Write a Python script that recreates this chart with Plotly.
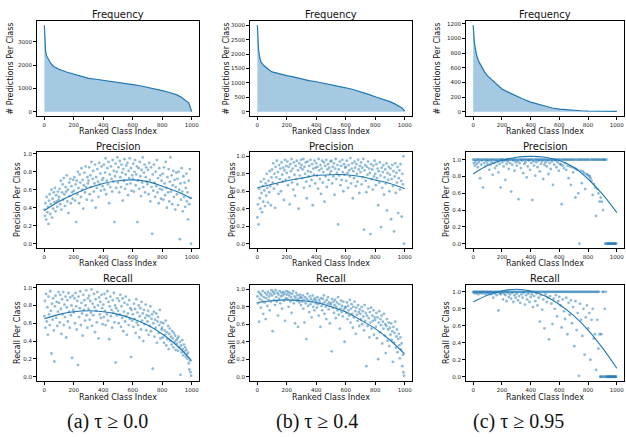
import plotly.graph_objects as go

# ---------------- data ----------------
freq_x = [0, 3, 8, 15, 25, 40, 60, 80, 100, 150, 200, 250, 300, 350, 400, 450, 500,
          550, 600, 650, 700, 750, 800, 850, 900, 930, 960, 980, 990, 1000]
freq_a = [3700, 3000, 2600, 2400, 2250, 2100, 1950, 1870, 1820, 1700, 1600, 1520, 1430,
          1390, 1350, 1300, 1260, 1210, 1160, 1110, 1050, 980, 900, 820, 720, 620, 480,
          380, 200, 0]
freq_b = [3000, 2500, 2150, 1900, 1720, 1620, 1520, 1450, 1380, 1310, 1250, 1200, 1130,
          1080, 1040, 990, 950, 890, 830, 770, 700, 610, 520, 440, 350, 280, 200, 140,
          90, 20]
freq_c = [1180, 1050, 950, 860, 760, 680, 600, 540, 490, 400, 310, 260, 210, 170, 130,
          100, 70, 50, 35, 25, 18, 13, 9, 7, 5, 4, 4, 3, 3, 3]

# class index (ranked), sampled every 4 classes
cls_idx = list(range(0, 1000, 4))

# per-class values in percent
prec_a = [38,31,45,27,52,35,41,22,48,55,33,44,60,29,50,39,57,46,62,36,54,47,41,58,49,
          52,61,44,70,38,57,66,49,73,55,42,63,58,76,47,60,34,68,53,72,45,64,57,50,71,
          59,74,48,66,24,70,55,80,62,45,77,68,52,84,60,71,39,65,79,57,86,63,49,74,67,
          70,85,55,76,63,91,48,72,81,58,67,88,40,74,62,83,69,52,90,66,78,59,86,71,64,
          73,88,60,79,95,55,70,84,66,91,45,77,63,86,72,58,93,69,81,24,75,89,62,80,96,
          68,85,57,92,74,63,88,79,48,83,70,94,61,77,87,66,90,54,81,73,95,67,84,59,76,
          72,89,58,80,93,65,77,86,24,70,84,61,91,75,53,82,68,96,63,79,88,57,74,85,69,
          66,82,55,90,71,47,85,63,11,77,59,88,68,52,80,64,93,57,73,45,84,61,76,50,70,
          60,78,49,85,67,54,91,62,40,74,57,83,47,69,96,58,76,44,65,81,52,71,38,63,79,
          55,72,43,80,60,5,67,49,84,58,36,75,52,68,41,62,78,47,57,27,70,44,83,51,0]
prec_b = [30,45,22,63,52,40,71,58,36,66,48,74,61,43,69,55,80,64,47,72,59,83,66,44,76,
          85,70,92,63,80,41,88,76,95,68,82,57,90,74,86,60,93,79,71,87,50,84,96,73,89,
          81,94,67,88,76,45,91,83,97,70,86,62,93,79,55,89,74,95,68,84,40,92,78,87,96,
          90,75,85,97,64,88,80,93,71,52,94,83,77,89,66,96,82,73,91,44,86,79,95,69,87,
          92,78,88,63,97,84,74,90,57,86,95,70,82,93,48,89,77,96,65,85,91,73,87,80,94,
          83,95,69,88,77,92,56,86,97,74,81,90,22,85,78,94,67,89,73,96,82,60,91,79,87,
          88,72,95,81,64,90,84,77,98,69,86,92,52,83,75,94,87,66,91,80,71,96,85,58,89,
          82,93,68,87,76,97,16,84,90,72,59,88,79,94,65,86,81,11,91,74,85,62,89,77,95,
          80,67,91,75,86,44,83,70,93,78,19,87,64,82,90,56,76,85,69,92,38,81,73,88,60,
          79,86,28,74,90,66,83,14,77,92,58,81,70,88,35,75,84,62,91,72,31,80,68,100,0]
prec_c = [100,96,100,93,98,100,95,100,91,100,97,100,78,100,94,99,100,67,100,96,100,92,100,98,100,
          95,100,99,88,100,94,100,97,100,82,100,96,100,90,99,100,93,100,98,85,100,95,100,67,100,
          100,97,100,92,100,99,76,100,95,100,98,100,89,100,96,100,62,100,94,100,99,100,87,100,97,
          100,93,100,98,53,100,96,100,90,100,99,100,84,100,95,100,97,100,79,100,92,100,99,100,88,
          100,96,100,52,100,98,93,100,81,100,97,100,91,100,99,100,86,100,95,100,98,100,77,100,94,
          100,97,100,92,100,99,83,100,96,100,89,100,98,100,70,100,94,100,99,100,91,100,97,100,87,
          100,95,100,94,47,100,93,100,90,100,96,100,88,100,93,100,78,100,92,100,70,100,91,100,85,
          100,90,100,55,89,100,88,100,60,100,0,100,87,100,72,100,86,100,84,100,65,100,83,100,82,
          100,81,100,80,78,100,75,100,58,100,71,100,67,100,33,100,65,100,60,100,50,100,55,100,50,
          100,40,100,100,100,0,0,100,0,0,0,0,0,0,0,0,0,0,0,0,0,0,0,0,0]
rec_a = [68,85,55,93,62,78,47,90,70,58,96,74,26,82,64,88,52,17,79,91,66,84,57,73,95,
         83,61,92,76,48,87,70,95,58,81,67,90,44,78,86,62,94,73,55,89,69,80,21,91,75,
         72,88,60,94,79,53,85,13,90,67,77,96,58,83,71,46,92,75,86,63,80,97,69,55,88,
         76,91,64,85,72,98,57,82,69,93,78,50,87,74,61,95,80,43,89,70,84,66,92,77,59,
         81,67,93,74,58,88,70,96,63,84,42,79,90,68,75,55,86,72,94,61,80,16,77,69,88,
         74,60,85,70,92,56,79,66,88,51,73,83,62,90,68,47,81,71,58,86,65,77,22,75,63,
         70,56,82,65,76,49,87,61,72,58,80,44,68,77,53,84,63,71,40,75,59,66,81,52,69,
         62,74,47,68,57,79,51,65,70,9,60,73,45,64,55,71,38,62,67,49,58,75,43,61,53,
         55,44,60,38,52,47,63,35,50,42,57,31,48,54,40,45,36,51,43,33,49,39,46,30,41,
         37,43,29,45,33,39,2,35,27,41,31,24,36,28,33,22,30,25,20,27,15,8,18,5,1]
rec_b = [92,84,97,63,89,95,79,93,87,98,72,91,85,96,66,90,94,81,97,88,92,76,95,86,99,
         93,52,97,88,95,82,99,91,86,96,70,94,89,98,84,92,96,78,93,97,87,95,64,90,98,
         94,89,97,80,93,96,86,91,73,95,88,98,84,92,61,90,96,87,93,57,89,85,94,91,82,
         90,86,93,78,88,62,91,84,43,89,95,81,87,74,92,83,89,68,86,93,80,88,76,90,84,
         87,79,91,83,70,88,85,57,90,81,76,89,84,93,72,86,80,66,88,83,91,77,85,61,82,
         84,29,89,79,86,73,82,88,67,80,85,76,91,71,83,55,78,87,74,81,69,86,77,40,80,
         79,73,85,66,81,76,70,88,62,78,83,72,56,80,68,86,75,49,79,71,64,82,74,58,77,
         72,66,80,60,75,69,53,82,64,73,12,70,58,78,67,45,74,62,79,55,70,64,76,48,68,
         65,57,73,44,68,20,62,75,51,66,59,70,38,63,55,72,47,60,27,58,66,41,54,62,35,
         56,48,61,42,52,17,57,39,50,63,33,46,54,28,43,49,36,21,45,31,38,12,25,5,1]
rec_c = [100,99,100,100,98,100,100,99,100,97,100,100,99,100,100,98,100,100,99,100,100,97,100,99,100,
         100,98,100,99,100,100,97,100,99,100,93,100,98,100,99,100,96,100,100,78,100,98,100,97,100,
         99,100,91,100,98,100,96,100,89,100,99,100,94,100,97,100,92,100,99,100,88,100,96,100,93,
         100,98,100,90,100,95,100,87,100,97,100,93,100,99,100,85,100,96,100,91,100,98,100,88,100,
         94,100,97,100,82,100,95,100,89,100,98,100,84,100,93,100,65,100,96,100,79,100,91,100,57,
         100,97,100,88,100,93,100,44,100,95,100,86,100,62,100,92,100,80,100,96,100,71,100,89,100,
         94,100,84,100,58,100,91,100,77,100,68,100,93,100,50,100,87,100,73,100,90,100,63,100,82,
         100,36,100,89,100,55,100,75,100,1,100,86,100,67,100,48,100,80,100,26,100,70,100,84,100,
         57,100,75,100,20,100,67,100,80,100,45,100,50,100,8,100,67,100,33,100,50,0,0,50,0,
         100,0,100,0,80,0,100,0,0,0,0,0,0,0,0,0,0,0,0,0,0,0,0,0,0]

# quadratic fit curves, read at x = 0, 100, ..., 1000
fit_x = [0, 100, 200, 300, 400, 500, 600, 700, 800, 900, 1000]
fit_prec_a = [0.37, 0.47, 0.55, 0.62, 0.67, 0.70, 0.71, 0.69, 0.64, 0.58, 0.50]
fit_prec_b = [0.64, 0.68, 0.72, 0.75, 0.78, 0.79, 0.79, 0.77, 0.73, 0.69, 0.63]
fit_prec_c = [0.83, 0.93, 0.99, 1.03, 1.04, 1.03, 0.99, 0.91, 0.77, 0.59, 0.37]
fit_rec_a = [0.65, 0.70, 0.73, 0.74, 0.73, 0.70, 0.65, 0.58, 0.48, 0.35, 0.18]
fit_rec_b = [0.85, 0.87, 0.88, 0.87, 0.85, 0.80, 0.74, 0.65, 0.55, 0.42, 0.26]
fit_rec_c = [0.88, 0.96, 1.01, 1.03, 1.01, 0.95, 0.85, 0.72, 0.55, 0.34, 0.10]

row_titles = ["Frequency", "Precision", "Recall"]
y_titles = ["# Predictions Per Class", "Precision Per Class", "Recall Per Class"]
x_title = "Ranked Class Index"
captions = ["(a) τ ≥ 0.0", "(b) τ ≥ 0.4", "(c) τ ≥ 0.95"]

# ---------------- layout geometry (pixels) ----------------
W, H = 626, 437
col_px = [(37, 199), (250, 412), (466, 624)]
row_px = [(21, 116), (152, 248), (285, 381)]
title_y = [14, 146, 278]
xlabel_y = [131, 263, 397]
ylabel_x = [[10, 226, 437], [17, 232, 446], [17, 232, 446]]
BLUE = "#1f77b4"
FONT = "DejaVu Sans"

fig = go.Figure()

freq_sets = [freq_a, freq_b, freq_c]
freq_ranges = [[-185, 3885], [-150, 3150], [-59, 1239]]
freq_ticks = [[0, 1000, 2000, 3000], [0, 500, 1000, 1500, 2000, 2500, 3000],
              [0, 200, 400, 600, 800, 1000, 1200]]
prec_sets = [prec_a, prec_b, prec_c]
rec_sets = [rec_a, rec_b, rec_c]
fit_prec = [fit_prec_a, fit_prec_b, fit_prec_c]
fit_rec = [fit_rec_a, fit_rec_b, fit_rec_c]
prec_ranges = [[-0.048, 1.02], [-0.05, 1.05], [-0.052, 1.092]]
rec_ranges = [[-0.049, 1.03], [-0.05, 1.05], [-0.05, 1.08]]

axis_common = dict(showline=True, mirror=True, linecolor="black", linewidth=1,
                   ticks="outside", ticklen=3, tickwidth=0.8, tickcolor="black",
                   showgrid=False, zeroline=False, ticklabeloverflow="allow",
                   tickfont=dict(size=5.5, family=FONT, color="#222"))


def ann(x, y, text, size, angle=0, family=FONT):
    fig.add_annotation(x=x / W, y=1 - y / H, xref="paper", yref="paper", text=text,
                       showarrow=False, xanchor="center", yanchor="middle",
                       textangle=angle, font=dict(size=size, family=family, color="#111"))


k = 0
for r in range(3):
    for c in range(3):
        k += 1
        xa = "x" if k == 1 else f"x{k}"
        ya = "y" if k == 1 else f"y{k}"
        x0, x1 = col_px[c]
        y0, y1 = row_px[r]
        xdom = [x0 / W, x1 / W]
        ydom = [1 - y1 / H, 1 - y0 / H]
        if r == 0:
            fig.add_trace(go.Scatter(x=freq_x, y=freq_sets[c], mode="lines",
                                     line=dict(color=BLUE, width=1.2),
                                     fill="tozeroy", fillcolor="rgba(31,119,180,0.4)",
                                     xaxis=xa, yaxis=ya, showlegend=False))
            yr, yt = freq_ranges[c], freq_ticks[c]
        else:
            vals = prec_sets[c] if r == 1 else rec_sets[c]
            fits = fit_prec[c] if r == 1 else fit_rec[c]
            fig.add_trace(go.Scatter(x=cls_idx, y=[v / 100 for v in vals], mode="markers",
                                     marker=dict(color="rgba(31,119,180,0.5)", size=2.8,
                                                 line=dict(width=0)),
                                     xaxis=xa, yaxis=ya, showlegend=False))
            fig.add_trace(go.Scatter(x=fit_x, y=fits, mode="lines",
                                     line=dict(color=BLUE, width=1.1, shape="spline"),
                                     xaxis=xa, yaxis=ya, showlegend=False))
            yr = prec_ranges[c] if r == 1 else rec_ranges[c]
            yt = [0.0, 0.2, 0.4, 0.6, 0.8, 1.0]
        xkey = "xaxis" if k == 1 else f"xaxis{k}"
        ykey = "yaxis" if k == 1 else f"yaxis{k}"
        fig.layout[xkey] = dict(axis_common, domain=xdom, anchor=ya, range=[-50, 1050],
                                tickvals=[0, 200, 400, 600, 800, 1000])
        ytext = [f"{v:.1f}" for v in yt] if r > 0 else [str(v) for v in yt]
        fig.layout[ykey] = dict(axis_common, domain=ydom, anchor=xa, range=yr,
                                tickvals=yt, ticktext=ytext)
        ann((x0 + x1) / 2, title_y[r], row_titles[r], 10)
        ann((x0 + x1) / 2, xlabel_y[r], x_title, 8)
        ann(ylabel_x[r][c], (y0 + y1) / 2, y_titles[r], 8, angle=-90)

cap_x = [107, 317, 518]
for i in range(3):
    ann(cap_x[i], 421, captions[i], 20, family="Liberation Serif")

fig.update_layout(width=W, height=H, margin=dict(l=0, r=0, t=0, b=0),
                  plot_bgcolor="white", paper_bgcolor="white")
fig.write_html("out.html", config={"displayModeBar": False},
               post_script="document.body.style.margin='0px';"
                           "document.body.style.overflow='hidden';")
